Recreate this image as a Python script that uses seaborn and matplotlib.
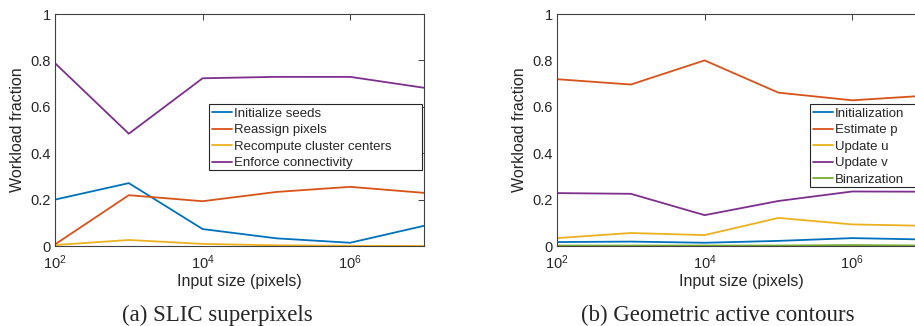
import numpy as np
import pandas as pd
import matplotlib
matplotlib.use("Agg")
import matplotlib.pyplot as plt
import seaborn as sns
from matplotlib.patches import Rectangle
from matplotlib.ticker import FixedLocator, NullLocator, LogFormatterMathtext

# tamanhos de entrada (pixels)
sizes = [1e2, 1e3, 1e4, 1e5, 1e6, 1e7]

# (a) SLIC superpixels
slic_names = ["Initialize seeds", "Reassign pixels", "Recompute cluster centers", "Enforce connectivity"]
slic_init = [0.200, 0.271, 0.073, 0.033, 0.014, 0.087]
slic_reassign = [0.007, 0.219, 0.193, 0.233, 0.255, 0.229]
slic_recompute = [0.004, 0.026, 0.009, 0.003, 0.001, 0.000]
slic_enforce = [0.788, 0.484, 0.723, 0.729, 0.729, 0.682]

# (b) Geometric active contours
gac_names = ["Initialization", "Estimate p", "Update u", "Update v", "Binarization"]
gac_init = [0.017, 0.019, 0.014, 0.022, 0.034, 0.028]
gac_estimate = [0.719, 0.696, 0.800, 0.661, 0.628, 0.648]
gac_update_u = [0.034, 0.056, 0.047, 0.121, 0.093, 0.087]
gac_update_v = [0.228, 0.225, 0.133, 0.194, 0.235, 0.234]
gac_binar = [0.002, 0.002, 0.002, 0.002, 0.004, 0.002]

cores = ["#0072BD", "#D95319", "#EDB120", "#7E2F8E", "#77AC30"]


def montar_df(nomes, series):
    linhas = []
    for nome, vals in zip(nomes, series):
        for x, v in zip(sizes, vals):
            linhas.append({"size": x, "frac": v, "etapa": nome})
    return pd.DataFrame(linhas)


df_a = montar_df(slic_names, [slic_init, slic_reassign, slic_recompute, slic_enforce])
df_b = montar_df(gac_names, [gac_init, gac_estimate, gac_update_u, gac_update_v, gac_binar])

sns.set_style("white")
plt.rcParams["font.family"] = ["Liberation Sans", "DejaVu Sans"]
plt.rcParams["mathtext.fontset"] = "custom"
plt.rcParams["mathtext.rm"] = "Liberation Sans"
plt.rcParams["mathtext.it"] = "Liberation Sans"

fig = plt.figure(figsize=(9.15, 3.26), dpi=100)
ax_a = fig.add_axes([55 / 915, 80 / 326, 369 / 915, 232 / 326])
ax_b = fig.add_axes([557 / 915, 80 / 326, 369 / 915, 232 / 326])

eixo_cor = "#404040"


def desenhar(ax, df, nomes, caixa):
    pal = dict(zip(nomes, cores[:len(nomes)]))
    sns.lineplot(data=df, x="size", y="frac", hue="etapa", hue_order=nomes,
                 palette=pal, linewidth=1.3, ax=ax)
    ax.set_xscale("log")
    ax.set_xlim(1e2, 1e7)
    ax.set_ylim(0, 1)
    ax.xaxis.set_major_locator(FixedLocator([1e2, 1e4, 1e6]))
    ax.xaxis.set_major_formatter(LogFormatterMathtext())
    ax.xaxis.set_minor_locator(NullLocator())
    ax.set_yticks([0, 0.2, 0.4, 0.6, 0.8, 1])
    ax.set_yticklabels(["0", "0.2", "0.4", "0.6", "0.8", "1"])
    ax.tick_params(direction="in", length=4, width=0.7, top=True, right=True,
                   labelsize=10.5, colors=eixo_cor, labelcolor="#262626", pad=3)
    ax.tick_params(axis="x", pad=5)
    for s in ax.spines.values():
        s.set_visible(True)
        s.set_color(eixo_cor)
        s.set_linewidth(0.8)
    ax.set_xlabel("Input size (pixels)", fontsize=11.5, color="#262626", labelpad=2)
    ax.set_ylabel("Workload fraction", fontsize=11.5, color="#262626", labelpad=4)

    # legenda no estilo MATLAB: caixa com folga à direita
    x0, y0, x1, y1 = caixa
    handles, labels = ax.get_legend_handles_labels()
    ax.legend(handles, labels, loc="upper left", bbox_to_anchor=(x0, y1),
              borderaxespad=0, fontsize=9.5, frameon=False,
              handlelength=1.5, handletextpad=0.12, labelspacing=0.33,
              borderpad=0.25)
    ax.add_patch(Rectangle((x0, y0), x1 - x0, y1 - y0, transform=ax.transAxes,
                           facecolor="white", edgecolor="#262626", linewidth=0.8,
                           clip_on=False, zorder=4.5))


desenhar(ax_a, df_a, slic_names, (0.417, 0.328, 0.995, 0.612))
desenhar(ax_b, df_b, gac_names, (0.686, 0.254, 1.05, 0.612))

fig.text(217 / 915, 1 - 315 / 326, "(a) SLIC superpixels", ha="center", va="center",
         fontsize=16.5, family="Liberation Serif")
fig.text(718 / 915, 1 - 315 / 326, "(b) Geometric active contours", ha="center", va="center",
         fontsize=16.5, family="Liberation Serif")

fig.savefig("out.png", dpi=100)
